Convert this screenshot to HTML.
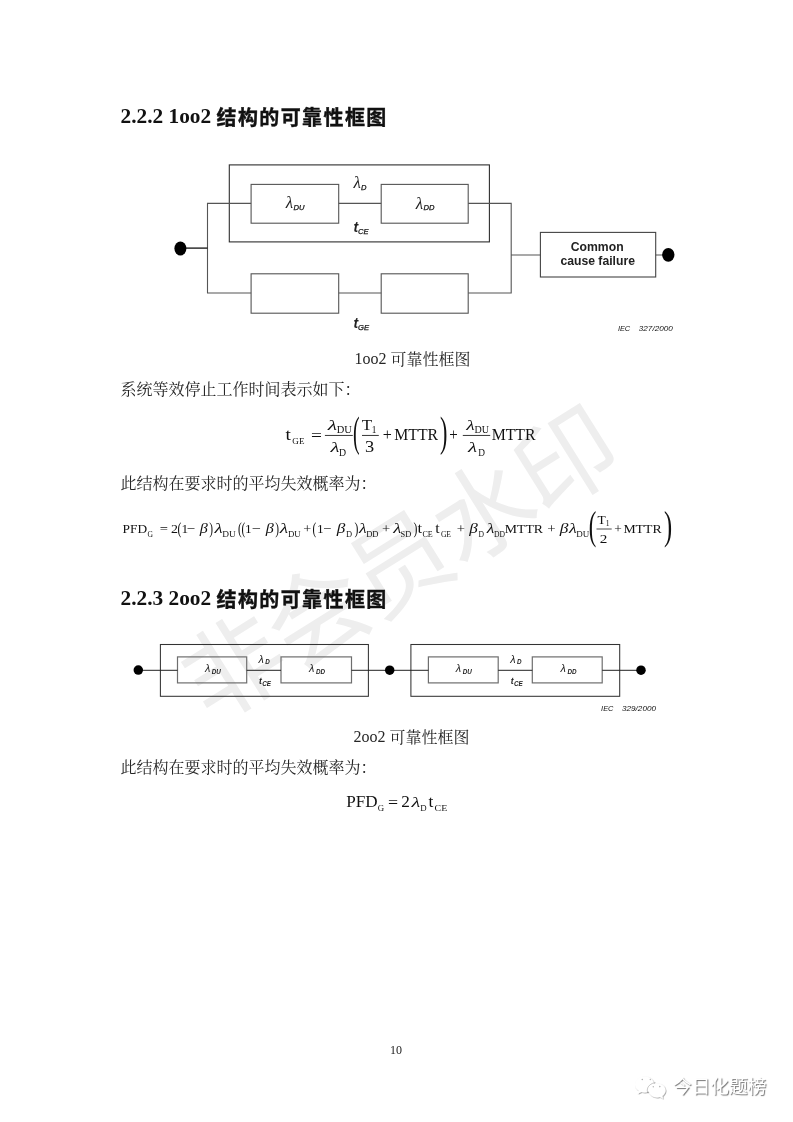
<!DOCTYPE html>
<html lang="zh-CN">
<head>
<meta charset="utf-8">
<title>2.2.2 1oo2 结构的可靠性框图</title>
<style>
html,body{margin:0;padding:0;background:#fff;}
body{width:793px;height:1122px;overflow:hidden;position:relative;
  font-family:"Liberation Serif","Noto Serif CJK SC",serif;color:#1a1a1a;}
.page{position:absolute;left:0;top:0;width:793px;height:1122px;overflow:hidden;will-change:transform;}
.wm{position:absolute;left:399.5px;top:565px;width:0;height:0;}
.wm span{position:absolute;left:-300px;top:-70px;width:600px;height:140px;line-height:140px;
  text-align:center;white-space:nowrap;font-family:"Liberation Sans","Noto Sans CJK SC",sans-serif;
  font-size:100px;letter-spacing:-2px;font-weight:400;color:#eeeeee;transform:rotate(-32deg);transform-origin:50% 50%;}
h2{position:absolute;margin:0;left:120.5px;white-space:nowrap;font-weight:bold;font-size:21.33px;line-height:30px;
  font-family:"Liberation Serif","Noto Sans CJK SC",sans-serif;color:#111;}
h2 .c{font-family:"Noto Sans CJK SC",sans-serif;font-weight:700;-webkit-text-stroke:0.4px #111;font-size:20px;letter-spacing:1.4px;}
h2 .l{position:relative;top:-2px;}
p{position:absolute;margin:0;white-space:nowrap;font-size:16px;line-height:24px;color:#262626;font-weight:400;
  font-family:"Liberation Serif","Noto Serif CJK SC",serif;}
p.body{left:120.5px;}
p .l{font-size:16px;letter-spacing:0;position:relative;top:-1px;}
p.cap{left:0;width:793px;text-align:center;}
.pn{position:absolute;left:-0.5px;width:793px;text-align:center;font-size:12px;line-height:14px;top:1043px;color:#222;}
svg{position:absolute;left:0;top:0;}
.lam{font-family:"Liberation Serif",serif;font-style:italic;}
.sub{font-family:"Liberation Sans",sans-serif;font-style:italic;font-size:7.6px;fill:#111;stroke:#111;stroke-width:0.25px;}
.tb{font-family:"Liberation Sans",sans-serif;font-style:italic;font-weight:bold;font-size:14px;}
.sub2{font-family:"Liberation Sans",sans-serif;font-style:italic;font-size:6.3px;font-weight:bold;}
.lam2{font-family:"Liberation Sans",sans-serif;font-style:italic;font-size:10.8px;}
.tb2{font-family:"Liberation Sans",sans-serif;font-style:italic;font-weight:bold;font-size:8.6px;}
.mr{font-family:"Liberation Serif",serif;}
.mi{font-family:"Liberation Serif",serif;font-style:italic;}
.bar{fill:#222;}
.ccf{font-family:"Liberation Sans",sans-serif;font-weight:bold;font-size:12.2px;}
.iec{font-family:"Liberation Sans",sans-serif;font-style:italic;font-size:7.4px;white-space:pre;fill:#111;}

.wx{position:absolute;left:673px;top:1074px;font-family:"Liberation Sans","Noto Sans CJK SC",sans-serif;
  font-size:18.7px;line-height:26px;color:#fff;white-space:nowrap;
  text-shadow:1px 1px 1px rgba(0,0,0,.55);}
</style>
</head>
<body>
<div class="page">
  <div class="wm"><span>非会员水印</span></div>

  <h2 style="top:102px"><span class="l">2.2.2 1oo2 </span><span class="c">结构的可靠性框图</span></h2>
  <p class="cap" style="top:347.5px;left:16px"><span class="l">1oo2 </span>可靠性框图</p>
  <p class="body" style="top:378px">系统等效停止工作时间表示如下：</p>
  <p class="body" style="top:472px">此结构在要求时的平均失效概率为：</p>
  <h2 style="top:584px"><span class="l">2.2.3 2oo2 </span><span class="c">结构的可靠性框图</span></h2>
  <p class="cap" style="top:725.5px;left:15px"><span class="l">2oo2 </span>可靠性框图</p>
  <p class="body" style="top:756px">此结构在要求时的平均失效概率为：</p>

  <svg class="dg" width="793" height="1122" viewBox="0 0 793 1122">
    <g id="d1" fill="none" stroke="#555" stroke-width="1.1">
      <rect x="229.3" y="164.9" width="260.1" height="77" stroke="#2e2e2e"/>
      <rect x="251.1" y="184.4" width="87.6" height="38.8"/>
      <rect x="381.2" y="184.4" width="87" height="38.8"/>
      <rect x="251.1" y="273.8" width="87.6" height="39.4"/>
      <rect x="381.2" y="273.8" width="87" height="39.4"/>
      <path d="M251.1 203.4H207.5V293H251.1M338.7 203.4H381.2M338.7 293H381.2M468.2 203.4H511.2V293H468.2M511.2 255H540.4M655.7 255H668"/>
      <rect x="540.4" y="232.4" width="115.3" height="44.6" stroke="#444"/>
      <path d="M180 248.1H207.5" stroke="#111" stroke-width="1.3"/>
    </g>
    <ellipse cx="180.4" cy="248.5" rx="6" ry="7.1" fill="#000"/>
    <ellipse cx="668.3" cy="254.8" rx="6.2" ry="6.9" fill="#000"/>
    <g class="dl" fill="#222">
      <text x="353.4" y="188.1" class="lam" font-size="17">λ</text><text x="361" y="189.8" class="sub">D</text>
      <text x="353.4" y="232.4" class="tb">t</text><text x="358" y="234.3" class="sub">CE</text>
      <text x="353.4" y="327.8" class="tb">t</text><text x="358" y="329.7" class="sub">GE</text>
      <text x="285.8" y="208.4" class="lam" font-size="17">λ</text><text x="293.6" y="210.1" class="sub">DU</text>
      <text x="415.8" y="208.6" class="lam" font-size="17">λ</text><text x="423.6" y="210.4" class="sub">DD</text>
      <text x="597.2" y="250.5" class="ccf" text-anchor="middle">Common</text>
      <text x="597.7" y="264.9" class="ccf" text-anchor="middle">cause failure</text>
      <text x="617.9" y="330.5" class="iec">IEC</text><text x="638.8" y="330.5" class="iec" textLength="34" lengthAdjust="spacingAndGlyphs">327/2000</text>
    </g>
    <g id="d2" fill="none" stroke="#6e6e6e" stroke-width="1.2">
      <rect x="177.5" y="656.9" width="69.2" height="26"/>
      <rect x="281" y="656.9" width="70.5" height="26"/>
      <rect x="428.4" y="656.9" width="69.8" height="26"/>
      <rect x="532.3" y="656.9" width="69.9" height="26"/>
      <rect x="160.4" y="644.5" width="208" height="51.8" stroke="#333" stroke-width="1.05"/>
      <rect x="410.9" y="644.5" width="208.8" height="51.8" stroke="#333" stroke-width="1.05"/>
      <path d="M138 670.3H177.5M246.7 670.3H281M351.5 670.3H428.4M498.2 670.3H532.3M602.2 670.3H641" stroke="#222" stroke-width="1"/>
    </g>
    <circle cx="138.3" cy="670.1" r="4.75" fill="#000"/>
    <circle cx="389.7" cy="670.2" r="4.75" fill="#000"/>
    <circle cx="641" cy="670.2" r="4.75" fill="#000"/>
    <g class="dl d2l" fill="#222">
      <text x="258.5" y="662.8" class="lam2">λ</text><text x="265.2" y="664" class="sub2">D</text>
      <text x="259" y="683.6" class="tb2">t</text><text x="262.2" y="686" class="sub2">CE</text>
      <text x="510.2" y="662.8" class="lam2">λ</text><text x="516.9" y="664" class="sub2">D</text>
      <text x="510.7" y="683.6" class="tb2">t</text><text x="513.9" y="686" class="sub2">CE</text>
      <text x="204.9" y="672.1" class="lam2">λ</text><text x="211.8" y="674" class="sub2">DU</text>
      <text x="309" y="672.1" class="lam2">λ</text><text x="315.9" y="674" class="sub2">DD</text>
      <text x="455.8" y="672.1" class="lam2">λ</text><text x="462.7" y="674" class="sub2">DU</text>
      <text x="560.6" y="672.1" class="lam2">λ</text><text x="567.5" y="674" class="sub2">DD</text>
      <text x="601.1" y="710.7" class="iec">IEC</text><text x="622" y="710.7" class="iec" textLength="34" lengthAdjust="spacingAndGlyphs">329/2000</text>
    </g>
    <defs>
      <filter id="wxs" x="-20%" y="-20%" width="150%" height="150%">
        <feDropShadow dx="0.7" dy="0.7" stdDeviation="0.45" flood-color="#000" flood-opacity="0.5"/>
      </filter>
    </defs>
    <g id="wxicon" filter="url(#wxs)" fill="#fff">
      <path d="M644.5 1076.6c-5.3 0-9.5 3.5-9.5 7.9 0 2.5 1.4 4.700 3.600 6.100l-0.900 3.200 3.600-1.900c1 0.300 2.100 0.500 3.200 0.500 5.300 0 9.500-3.500 9.500-7.900s-4.200-7.900-9.500-7.900z"/>
      <path d="M657.2 1083.400c-4.600 0-8.300 3.100-8.300 7 0 3.900 3.700 7 8.300 7 1 0 1.900-0.100 2.800-0.400l3.100 1.700-0.800-2.800c1.900-1.300 3.200-3.300 3.200-5.500 0-3.900-3.700-7-8.300-7z"/>
    </g>
    <path d="M648.2 1093.5c-0.700-1-0.900-2.100-0.900-3.200 0-3.900 3.500-7.200 8.300-7.600" fill="none" stroke="#8a8a8a" stroke-width="0.6" opacity="0.8"/>
    <g fill="#777" opacity="0.55">
      <circle cx="642.300" cy="1079.500" r="0.800"/><circle cx="650.300" cy="1079.500" r="0.700"/>
      <circle cx="653.300" cy="1086.700" r="0.700"/><circle cx="659.800" cy="1086.600" r="0.800"/>
    </g>
    <g id="fm" fill="#111">
      <text class="mr" x="285.51" y="440.30" font-size="17" textLength="5.40" lengthAdjust="spacingAndGlyphs">t</text>
      <text class="mr" x="292.33" y="443.90" font-size="8.5" textLength="12.13" lengthAdjust="spacingAndGlyphs">GE</text>
      <text class="mr" x="311.04" y="440.50" font-size="15.8" textLength="10.91" lengthAdjust="spacingAndGlyphs">=</text>
      <rect class="bar" x="324.90" y="434.95" width="27.90" height="0.9"/>
      <text class="mi" x="327.82" y="430.30" font-size="15" textLength="9.31" lengthAdjust="spacingAndGlyphs">λ</text>
      <text class="mr" x="336.80" y="433.20" font-size="9.3" textLength="15.12" lengthAdjust="spacingAndGlyphs">DU</text>
      <text class="mi" x="330.51" y="452.00" font-size="15" textLength="9.01" lengthAdjust="spacingAndGlyphs">λ</text>
      <text class="mr" x="339.02" y="456.10" font-size="9.3" textLength="7.07" lengthAdjust="spacingAndGlyphs">D</text>
      <text class="mr" font-size="20.0" transform="translate(352.93,445.91) scale(0.993,2.111)">(</text>
      <text class="mr" x="361.69" y="430.30" font-size="15.5" textLength="10.39" lengthAdjust="spacingAndGlyphs">T</text>
      <text class="mr" x="371.68" y="433.40" font-size="9.3">1</text>
      <rect class="bar" x="362.00" y="434.95" width="16.80" height="0.9"/>
      <text class="mr" x="365.12" y="452.00" font-size="15.8" textLength="9.20" lengthAdjust="spacingAndGlyphs">3</text>
      <text class="mr" x="382.70" y="440.40" font-size="15.8" textLength="9.09" lengthAdjust="spacingAndGlyphs">+</text>
      <text class="mr" x="394.24" y="440.30" font-size="15.8">MTTR</text>
      <text class="mr" font-size="20.0" transform="translate(439.98,445.91) scale(1.110,2.111)">)</text>
      <text class="mr" x="449.25" y="440.40" font-size="15.8" textLength="8.48" lengthAdjust="spacingAndGlyphs">+</text>
      <rect class="bar" x="462.80" y="434.95" width="27.40" height="0.9"/>
      <text class="mi" x="466.18" y="430.30" font-size="15" textLength="8.51" lengthAdjust="spacingAndGlyphs">λ</text>
      <text class="mr" x="474.41" y="433.20" font-size="9.3" textLength="14.50" lengthAdjust="spacingAndGlyphs">DU</text>
      <text class="mi" x="468.01" y="452.00" font-size="15" textLength="9.11" lengthAdjust="spacingAndGlyphs">λ</text>
      <text class="mr" x="478.23" y="456.10" font-size="9.3">D</text>
      <text class="mr" x="491.64" y="440.30" font-size="15.8">MTTR</text>
      <!-- f2 -->
      <text class="mr" x="122.61" y="532.80" font-size="13.4">PFD</text>
      <text class="mr" x="147.48" y="537.30" font-size="7.6">G</text>
      <text class="mr" x="159.67" y="533.40" font-size="13.4" textLength="8.24" lengthAdjust="spacingAndGlyphs">=</text>
      <text class="mr" x="171.09" y="532.80" font-size="13.4" textLength="6.98" lengthAdjust="spacingAndGlyphs">2</text>
      <text class="mr" font-size="20.0" transform="translate(177.49,533.74) scale(0.584,0.860)">(</text>
      <text class="mr" x="181.62" y="532.80" font-size="13.4">1</text>
      <text class="mr" x="186.65" y="533.40" font-size="13.4" textLength="8.48" lengthAdjust="spacingAndGlyphs">−</text>
      <text class="mi" x="199.76" y="532.80" font-size="14.5" textLength="8.06" lengthAdjust="spacingAndGlyphs">β</text>
      <text class="mr" font-size="20.0" transform="translate(209.24,533.74) scale(0.565,0.860)">)</text>
      <text class="mi" x="214.46" y="532.80" font-size="14" textLength="8.21" lengthAdjust="spacingAndGlyphs">λ</text>
      <text class="mr" x="222.33" y="536.90" font-size="7.6" textLength="13.46" lengthAdjust="spacingAndGlyphs">DU</text>
      <text class="mr" font-size="20.0" transform="translate(238.10,533.74) scale(0.565,0.860)">(</text>
      <text class="mr" font-size="20.0" transform="translate(241.50,533.74) scale(0.565,0.860)">(</text>
      <text class="mr" x="245.02" y="532.80" font-size="13.4">1</text>
      <text class="mr" x="251.70" y="533.40" font-size="13.4" textLength="9.09" lengthAdjust="spacingAndGlyphs">−</text>
      <text class="mi" x="265.86" y="532.80" font-size="14.5" textLength="8.06" lengthAdjust="spacingAndGlyphs">β</text>
      <text class="mr" font-size="20.0" transform="translate(275.34,533.74) scale(0.565,0.860)">)</text>
      <text class="mi" x="279.87" y="532.80" font-size="14" textLength="8.41" lengthAdjust="spacingAndGlyphs">λ</text>
      <text class="mr" x="287.95" y="536.90" font-size="7.6" textLength="12.64" lengthAdjust="spacingAndGlyphs">DU</text>
      <text class="mr" x="303.29" y="533.40" font-size="13.4" textLength="8.00" lengthAdjust="spacingAndGlyphs">+</text>
      <text class="mr" font-size="20.0" transform="translate(312.60,533.74) scale(0.565,0.860)">(</text>
      <text class="mr" x="317.02" y="532.80" font-size="13.4">1</text>
      <text class="mr" x="323.27" y="533.40" font-size="13.4" textLength="8.24" lengthAdjust="spacingAndGlyphs">−</text>
      <text class="mi" x="336.88" y="532.80" font-size="14.5" textLength="8.55" lengthAdjust="spacingAndGlyphs">β</text>
      <text class="mr" x="345.96" y="536.90" font-size="7.6" textLength="6.08" lengthAdjust="spacingAndGlyphs">D</text>
      <text class="mr" font-size="20.0" transform="translate(354.62,533.74) scale(0.584,0.860)">)</text>
      <text class="mi" x="358.93" y="532.80" font-size="14" textLength="7.71" lengthAdjust="spacingAndGlyphs">λ</text>
      <text class="mr" x="366.15" y="536.90" font-size="7.6" textLength="12.39" lengthAdjust="spacingAndGlyphs">DD</text>
      <text class="mr" x="381.97" y="533.40" font-size="13.4" textLength="8.24" lengthAdjust="spacingAndGlyphs">+</text>
      <text class="mi" x="393.26" y="532.80" font-size="14" textLength="8.11" lengthAdjust="spacingAndGlyphs">λ</text>
      <text class="mr" x="400.64" y="536.90" font-size="7.6" textLength="10.69" lengthAdjust="spacingAndGlyphs">SD</text>
      <text class="mr" font-size="20.0" transform="translate(413.62,533.74) scale(0.584,0.860)">)</text>
      <text class="mr" x="417.44" y="532.80" font-size="14.5" textLength="4.66" lengthAdjust="spacingAndGlyphs">t</text>
      <text class="mr" x="422.47" y="536.90" font-size="7.6" textLength="10.33" lengthAdjust="spacingAndGlyphs">CE</text>
      <text class="mr" x="435.24" y="532.80" font-size="14.5" textLength="4.45" lengthAdjust="spacingAndGlyphs">t</text>
      <text class="mr" x="440.88" y="536.90" font-size="7.6">GE</text>
      <text class="mr" x="456.87" y="533.40" font-size="13.4" textLength="8.24" lengthAdjust="spacingAndGlyphs">+</text>
      <text class="mi" x="469.28" y="532.80" font-size="14.5" textLength="8.55" lengthAdjust="spacingAndGlyphs">β</text>
      <text class="mr" x="478.38" y="536.90" font-size="7.6">D</text>
      <text class="mi" x="486.83" y="532.80" font-size="14" textLength="7.61" lengthAdjust="spacingAndGlyphs">λ</text>
      <text class="mr" x="494.08" y="536.90" font-size="7.6">DD</text>
      <text class="mr" x="504.80" y="532.80" font-size="13.4" textLength="38.22" lengthAdjust="spacingAndGlyphs">MTTR</text>
      <text class="mr" x="547.26" y="533.40" font-size="13.4" textLength="8.36" lengthAdjust="spacingAndGlyphs">+</text>
      <text class="mi" x="559.68" y="532.80" font-size="14.5" textLength="8.65" lengthAdjust="spacingAndGlyphs">β</text>
      <text class="mi" x="568.94" y="532.80" font-size="14" textLength="7.81" lengthAdjust="spacingAndGlyphs">λ</text>
      <text class="mr" x="576.24" y="536.90" font-size="7.6" textLength="12.95" lengthAdjust="spacingAndGlyphs">DU</text>
      <text class="mr" font-size="20.0" transform="translate(588.71,538.77) scale(1.129,1.979)">(</text>
      <text class="mr" x="597.56" y="524.00" font-size="13.4">T</text>
      <text class="mr" x="605.63" y="526.00" font-size="7.6">1</text>
      <rect class="bar" x="596.50" y="528.60" width="15.20" height="0.8"/>
      <text class="mr" x="599.83" y="543.40" font-size="13.4" textLength="7.61" lengthAdjust="spacingAndGlyphs">2</text>
      <text class="mr" x="614.34" y="533.40" font-size="13.4">+</text>
      <text class="mr" x="623.40" y="532.80" font-size="13.4" textLength="38.22" lengthAdjust="spacingAndGlyphs">MTTR</text>
      <text class="mr" font-size="20.0" transform="translate(664.11,538.77) scale(1.226,1.979)">)</text>
      <!-- f3 -->
      <text class="mr" x="346.21" y="807.00" font-size="16" textLength="31.38" lengthAdjust="spacingAndGlyphs">PFD</text>
      <text class="mr" x="377.84" y="811.30" font-size="8.8">G</text>
      <text class="mr" x="387.91" y="808.00" font-size="16" textLength="10.06" lengthAdjust="spacingAndGlyphs">=</text>
      <text class="mr" x="401.34" y="807.00" font-size="16" textLength="8.61" lengthAdjust="spacingAndGlyphs">2</text>
      <text class="mi" x="411.50" y="807.00" font-size="15.5" textLength="8.81" lengthAdjust="spacingAndGlyphs">λ</text>
      <text class="mr" x="420.24" y="811.00" font-size="8.8">D</text>
      <text class="mr" x="428.43" y="807.00" font-size="16.5" textLength="4.87" lengthAdjust="spacingAndGlyphs">t</text>
      <text class="mr" x="434.59" y="811.20" font-size="8.8" textLength="12.70" lengthAdjust="spacingAndGlyphs">CE</text>
    </g>
  </svg>
  <div class="pn">10</div>

  <div class="wx">今日化题榜</div>
</div>
</body>
</html>
